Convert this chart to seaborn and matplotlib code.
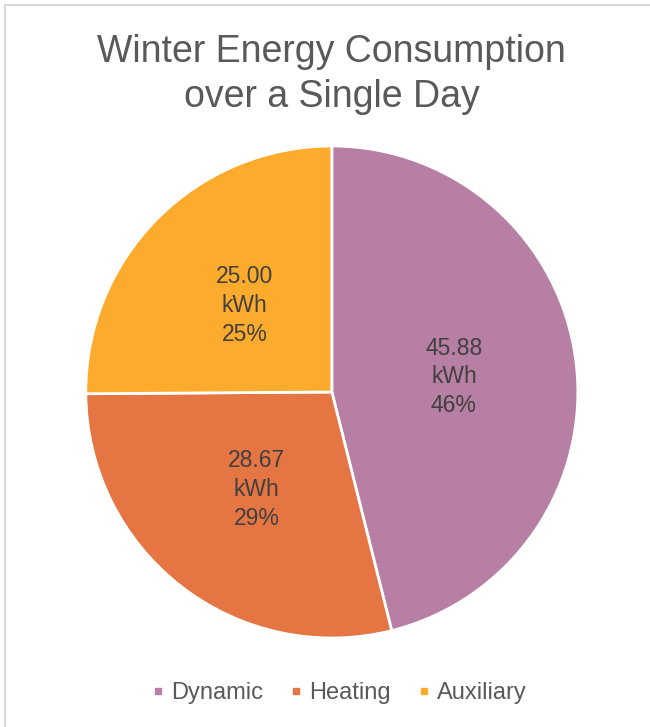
import matplotlib
matplotlib.use("Agg")
import matplotlib.pyplot as plt
from matplotlib.lines import Line2D
import seaborn as sns

# data
categories = ["Dynamic", "Heating", "Auxiliary"]
energy_kwh = [45.88, 28.67, 25.00]
colors = ["#B77FA3", "#E57542", "#FDAB2D"]

sns.set_theme(style="white")
plt.rcParams["font.family"] = ["Liberation Sans", "DejaVu Sans"]
palette = sns.color_palette(colors)

fig = plt.figure(figsize=(6.5, 7.27), dpi=100)
ax = fig.add_axes([0.132, 0.1224, 0.757, 0.6768])

total = sum(energy_kwh)


def make_label(pct):
    val = pct * total / 100
    return f"{val:.2f}\nkWh\n{pct:.0f}%"


wedges, texts, autotexts = ax.pie(
    energy_kwh,
    colors=palette,
    startangle=90,
    counterclock=False,
    autopct=make_label,
    pctdistance=0.5,
    wedgeprops=dict(edgecolor="white", linewidth=2),
    textprops=dict(color="#404040", fontsize=16.5, linespacing=1.32),
)
ax.set_xlim(-1, 1)
ax.set_ylim(-1, 1)
ax.set_aspect("equal")

fig.text(0.51, 0.897, "Winter Energy Consumption\nover a Single Day",
         ha="center", va="center", fontsize=27, color="#595959", linespacing=1.32)

handles = [Line2D([0], [0], marker="s", linestyle="none", markersize=5,
                  markerfacecolor=c, markeredgecolor=c) for c in palette]
fig.legend(handles, categories, loc="center", bbox_to_anchor=(0.522, 0.047),
           ncol=3, frameon=False, fontsize=17, handlelength=0.5,
           handletextpad=0.3, columnspacing=1.15, labelcolor="#595959")

# chart area border (top and left edges visible)
fig.add_artist(Line2D([5 / 650, 1], [1 - 5 / 727, 1 - 5 / 727],
                      transform=fig.transFigure, color="#D9D9D9", linewidth=1.5))
fig.add_artist(Line2D([5 / 650, 5 / 650], [0, 1 - 5 / 727],
                      transform=fig.transFigure, color="#D9D9D9", linewidth=1.5))

fig.savefig("out.png", dpi=100, facecolor="white")
